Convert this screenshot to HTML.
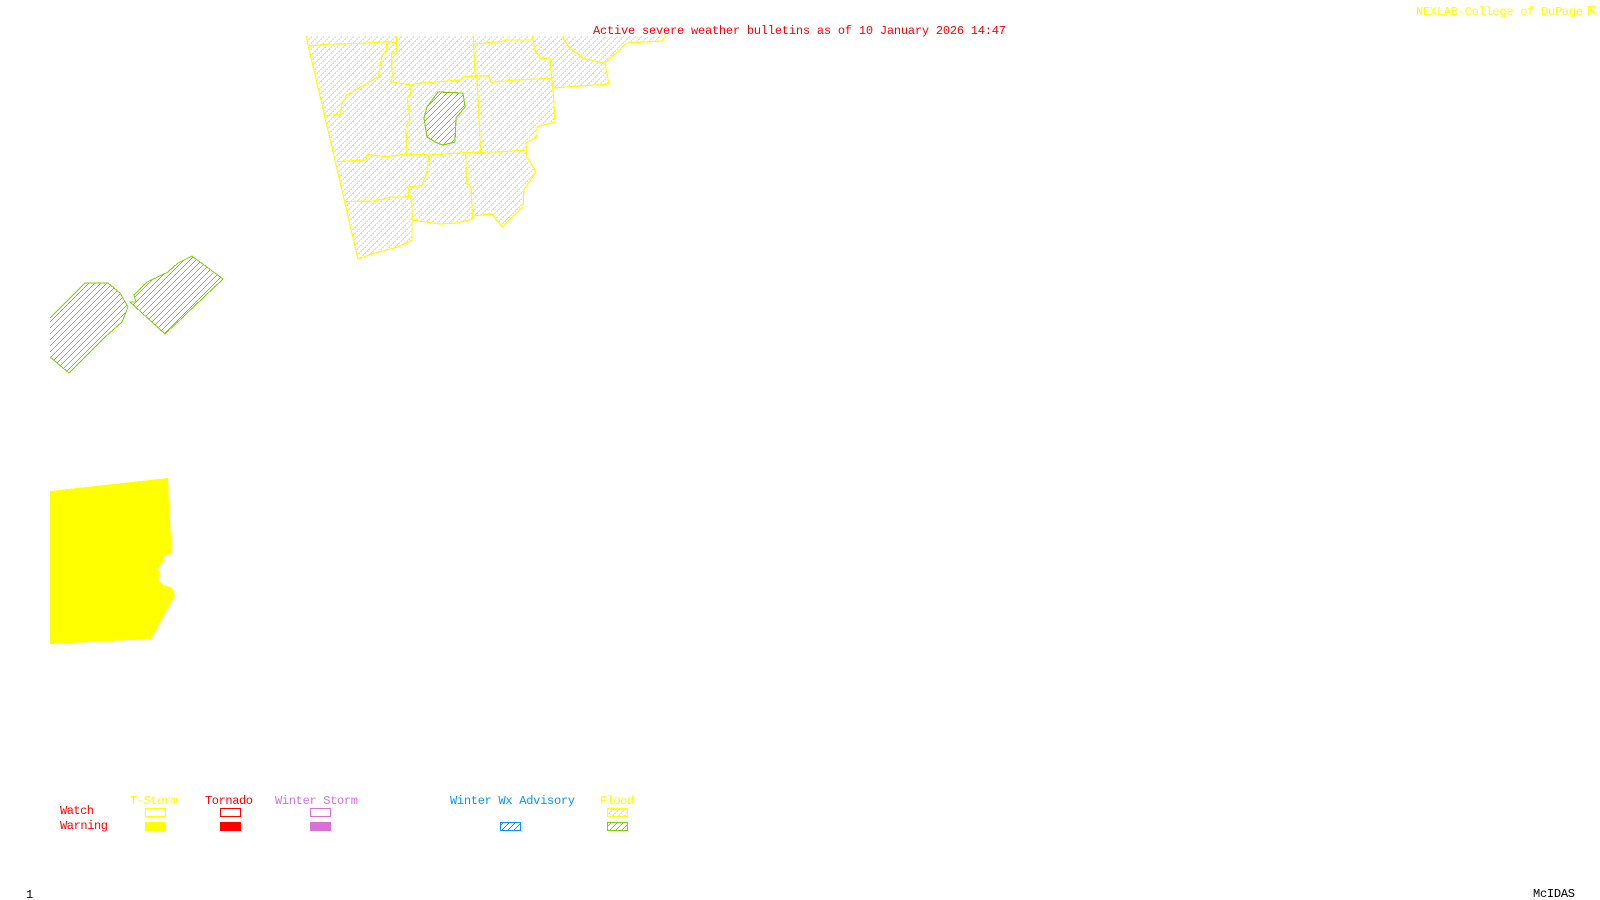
<!DOCTYPE html>
<html><head><meta charset="utf-8"><title>Active severe weather bulletins</title>
<style>html,body{margin:0;padding:0;background:#fff;width:1600px;height:900px;overflow:hidden}svg{display:block}
text{font-family:"Liberation Mono",monospace;font-size:12px}</style></head><body>
<svg width="1600" height="900" viewBox="0 0 1600 900" xmlns="http://www.w3.org/2000/svg">
<defs>
<pattern id="hy" width="6" height="6" patternUnits="userSpaceOnUse"><path d="M0 5h2v1h-2zM1 4h1v1h-1zM2 3h2v1h-2zM3 2h1v1h-1zM4 1h2v1h-2zM5 0h1v1h-1z" fill="#ffff00" shape-rendering="crispEdges"/></pattern>
<pattern id="hg" width="6" height="6" patternUnits="userSpaceOnUse"><path d="M0 5h1v1h-1zM1 4h1v1h-1zM2 3h1v1h-1zM3 2h1v1h-1zM4 1h1v1h-1zM5 0h1v1h-1z" fill="#76d600" shape-rendering="crispEdges"/></pattern>
<pattern id="hb" width="6" height="6" patternUnits="userSpaceOnUse"><path d="M0 5h1v1h-1zM1 4h1v1h-1zM2 3h1v1h-1zM3 2h1v1h-1zM4 1h1v1h-1zM5 0h1v1h-1z" fill="#0096ff" shape-rendering="crispEdges"/></pattern>
</defs>

<g shape-rendering="crispEdges">
<!-- county flood watch -->
<polygon fill="url(#hy)" points="306,36 358,259 375,253 398,247 412,240 412,220 440,224 457,223 473,219 473,216 492,214 502,227 512,217 523,207 524,190 536,172 527,157 526,143 537,137 537,127 555,122 553,88 609,84 605,63 627,43 662,41 665,36"/>
<polyline fill="none" stroke="#ffff00" stroke-width="1.25" points="306,36 358,259 375,253 398,247 412,240 412,220 440,224 457,223 473,219 473,216 492,214 502,227 512,217 523,207 524,190 536,172 527,157 526,143 537,137 537,127 555,122 553,88 609,84 605,63 627,43 662,41 665,36"/>
<g transform="translate(290,20) scale(0.33333)" fill="none" stroke="#ffff00" stroke-width="1.25">
<polyline vector-effect="non-scaling-stroke" points="55,78 120,72 215,70 290,65 320,68"/>
<polyline vector-effect="non-scaling-stroke" points="320,48 320,95 305,98 305,150 310,165 302,185 360,195 380,190 515,180 520,170 555,168 595,167 603,187 680,180 785,175"/>
<polyline vector-effect="non-scaling-stroke" points="290,65 290,90 275,110 265,170 240,185 205,205 170,225 155,255 150,283 108,287"/>
<polyline vector-effect="non-scaling-stroke" points="550,48 555,165 560,165 565,250 572,397"/>
<polyline vector-effect="non-scaling-stroke" points="552,72 630,65 650,60 725,60"/>
<polyline vector-effect="non-scaling-stroke" points="727,48 735,90 750,115 780,115 785,175 788,205"/>
<polyline vector-effect="non-scaling-stroke" points="815,48 840,85 880,115 945,130"/>
<polyline vector-effect="non-scaling-stroke" points="360,195 362,225 352,235 360,300 348,320 350,407"/>
<polyline vector-effect="non-scaling-stroke" points="140,425 228,420 232,403 290,410 348,402 420,405 527,398 640,395 708,390"/>
<polyline vector-effect="non-scaling-stroke" points="417,405 410,460 395,497 357,500 355,525 365,540 367,597"/>
<polyline vector-effect="non-scaling-stroke" points="527,398 530,490 543,500 548,597"/>
<polyline vector-effect="non-scaling-stroke" points="168,545 250,543 300,532 365,530"/>
</g>
<!-- center green flood warning -->
<polygon fill="#fff" points="438,92 463,93 465,107 456,118 455,142 443,145 437,143 427,137 424,118 427,107"/>
<polygon fill="url(#hg)" stroke="#76d600" stroke-width="1.1" points="438,92 463,93 465,107 456,118 455,142 443,145 437,143 427,137 424,118 427,107"/>

<!-- left green areas -->
<polygon fill="url(#hg)" points="50,318 85,283 97,283 108,283 120,293 128,307 122,322 105,337 69,373 50,357"/>
<polyline fill="none" stroke="#76d600" stroke-width="1" points="50,318 85,283 97,283 108,283 120,293 128,307 122,322 105,337 69,373 50,357"/>
<polygon fill="url(#hg)" stroke="#76d600" stroke-width="1" points="192,256 223,279 165,334 130,302 136,302 134,295 147,282 168,272 178,263"/>

<!-- solid yellow -->
<polygon fill="#ffff00" points="50,491 168,478 169,507 172,553 163,557 163,562 157,569 160,572 158,580 163,585 172,588 175,595 151,639 50,644"/>

<!-- legend boxes -->
<rect x="145.500" y="808.500" width="20" height="8" fill="none" stroke="#ffff00"/>
<rect x="145" y="822" width="21" height="9" fill="#ffff00"/>
<rect x="220.500" y="808.500" width="20" height="8" fill="none" stroke="#ff0000"/>
<rect x="220" y="822" width="21" height="9" fill="#ff0000"/>
<rect x="310.500" y="808.500" width="20" height="8" fill="none" stroke="#da70d6"/>
<rect x="310" y="822" width="21" height="9" fill="#da70d6"/>
<rect x="500.500" y="822.500" width="20" height="8" fill="url(#hb)" stroke="#0096ff"/>
<rect x="607.500" y="808.500" width="20" height="8" fill="url(#hy)" stroke="#ffff00"/>
<rect x="607.500" y="822.500" width="20" height="8" fill="url(#hg)" stroke="#76d600"/>

<!-- logo mark -->
<path d="M1588.500 6.500H1595.500M1588.500 6.500V15.500M1588.500 10.500H1592M1592 10.500L1595.500 15.500M1589 7L1595 13" fill="none" stroke="#ffff00"/>
</g>

<!-- text -->
<text x="593" y="34" fill="#ff0000" textLength="413" lengthAdjust="spacing">Active severe weather bulletins as of 10 January 2026 14:47</text>
<text x="1416" y="15" fill="#ffff00" textLength="167" lengthAdjust="spacing">NEXLAB-College of DuPage</text>
<text x="130" y="804" fill="#ffff00" textLength="48" lengthAdjust="spacing">T-Storm</text>
<text x="205" y="804" fill="#ff0000" textLength="48" lengthAdjust="spacing">Tornado</text>
<text x="275" y="804" fill="#da70d6" textLength="83" lengthAdjust="spacing">Winter Storm</text>
<text x="450" y="804" fill="#0096ff" textLength="125" lengthAdjust="spacing">Winter Wx Advisory</text>
<text x="600" y="804" fill="#ffff00" textLength="34" lengthAdjust="spacing">Flood</text>
<text x="60" y="814" fill="#ff0000" textLength="34" lengthAdjust="spacing">Watch</text>
<text x="60" y="829" fill="#ff0000" textLength="48" lengthAdjust="spacing">Warning</text>
<text x="26" y="898" fill="#000000">1</text>
<text x="1533" y="897" fill="#000000" textLength="42" lengthAdjust="spacing">McIDAS</text>
</svg>
</body></html>
